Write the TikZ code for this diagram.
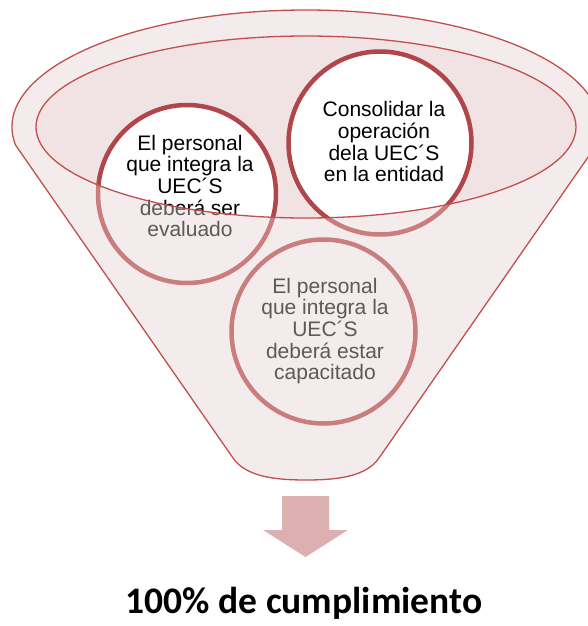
\documentclass[tikz,border=0pt]{standalone}
\usepackage{fontspec}
\setmainfont{Liberation Sans}
\newfontfamily\carlito{Carlito}
\definecolor{funred}{HTML}{C0504D}
\definecolor{ringdark}{HTML}{B0464A}
\definecolor{ringfade}{HTML}{C97D7D}
\definecolor{bodyfill}{HTML}{F4ECEC}
\definecolor{innerfill}{HTML}{F1E3E3}
\definecolor{arrowfill}{HTML}{DCB0B0}
\definecolor{fadetext}{HTML}{5E5858}
\begin{document}
\begin{tikzpicture}[x=1pt,y=-1pt,
  ringfull/.style={circle, draw=ringdark, line width=4.5pt, fill=white, inner sep=0pt},
  ringfaded/.style={circle, draw=ringfade, line width=4.5pt, inner sep=0pt},
  txt/.style={align=center, inner sep=0pt, font=\fontsize{21}{21.6}\selectfont},
  txtfull/.style={txt, text=black},
  txtfaded/.style={txt, text=fadetext},
  rim/.style={draw=funred, line width=1.3pt}]
\useasboundingbox (0,0) rectangle (588,626);
\clip (0,0) rectangle (588,626);
% funnel body
\path[fill=bodyfill, rim] (15.5,145) arc[start angle=171.15, end angle=368.85, x radius=294, y radius=117]
  -- (379,458) .. controls (366,477) and (336,480) .. (306,480)
  .. controls (276,480) and (246,477) .. (233,458) -- cycle;
% faded (seen through the funnel) circles and texts
\node[ringfaded, minimum size=178pt] (c1f) at (187,194) {};
\node[ringfaded, minimum size=183pt] (c2f) at (380,143) {};
\node[ringfaded, minimum size=184pt] (c3) at (323.5,331.5) {};
\node[txtfaded] (t1f) at (190,186) {El personal\\que integra la\\UEC´S\\deberá ser\\evaluado};
\node[txtfaded] (t2f) at (384,141.7) {Consolidar la\\operación\\dela UEC´S\\en la entidad};
\node[txtfaded] (t3) at (325,331) {El personal\\que integra la\\UEC´S\\deberá estar\\capacitado};
% inside the funnel mouth
\begin{scope}
  \clip (306,127) ellipse [x radius=270, y radius=91];
  \fill[innerfill] (306,127) ellipse [x radius=270, y radius=91];
  \node[ringfull, minimum size=178pt] (c1) at (187,194) {};
  \node[ringfull, minimum size=183pt] (c2) at (380,143) {};
  \node[txtfull] (t1) at (190,186) {El personal\\que integra la\\UEC´S\\deberá ser\\evaluado};
  \node[txtfull] (t2) at (384,141.7) {Consolidar la\\operación\\dela UEC´S\\en la entidad};
\end{scope}
\draw[rim] (306,127) ellipse [x radius=270, y radius=91];
% arrow
\fill[arrowfill] (282,496) -- (329,496) -- (329,530) -- (348,530) -- (305.5,557) -- (263,530) -- (282,530) -- cycle;
% result text
\node[font=\carlito\bfseries\fontsize{37.5}{40}\selectfont, anchor=base, inner sep=0pt] (res) at (304,613) {100\% de cumplimiento};
\end{tikzpicture}
\end{document}
